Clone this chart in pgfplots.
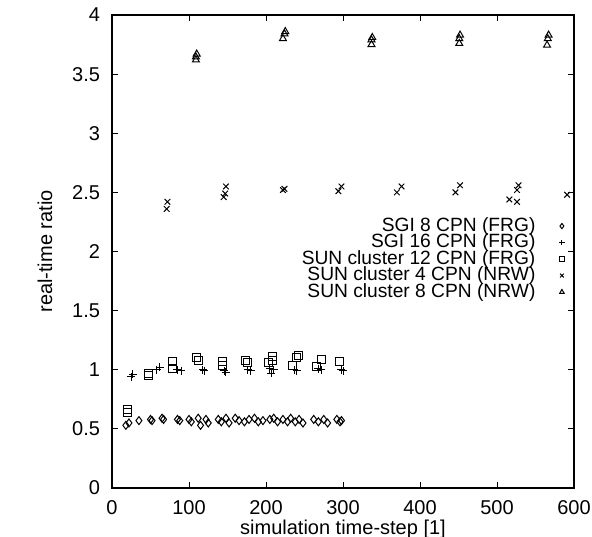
\documentclass[border=0pt]{standalone}
\usepackage{fontspec}
\setmainfont{Liberation Sans}
\usepackage{pgfplots}
\pgfplotsset{compat=1.18}
\begin{document}
\begin{tikzpicture}
\path[use as bounding box] (-56pt,-24pt) rectangle (240pt,244pt);
\begin{axis}[
  at={(0pt,0pt)}, anchor=south west,
  scale only axis, width=231pt, height=236.5pt,
  xmin=0, xmax=600, ymin=0, ymax=4,
  xtick={0,100,...,600}, ytick={0,0.5,...,4},
  tick align=inside, major tick length=3pt,
  axis line style={line width=0.8pt},
  tick style={line width=0.5pt, black},
  font=\fontsize{10}{11}\selectfont,
  /pgf/number format/assume math mode=true,
  yticklabel style={xshift=-2.5pt},
  xticklabel style={yshift=-2.8pt},
  xlabel={simulation time-step [1]},
  ylabel={real-time ratio},
  xlabel style={at={(axis description cs:0.5,-0.088)}, anchor=center},
  ylabel style={at={(axis description cs:-0.145,0.5)}, anchor=center},
  legend style={at={(axis cs:596,2.32)}, anchor=north east, draw=none, fill=none,
    font=\fontsize{9.6}{9.6}\selectfont, row sep=0.25pt, legend cell align=right,
    nodes={text height=6.5pt, text depth=1.5pt, inner ysep=0pt}},
  legend plot pos=right,
  legend image code/.code={\path (0pt,0pt); \draw[#1] plot coordinates {(11pt,0pt)};},
  every axis plot/.append style={only marks, black, mark size=2pt, line width=0.5pt},
]
\addplot[mark=diamond, legend image post style={mark size=1.3pt}] coordinates {
(18,0.53)(22,0.55)(35,0.57)(50,0.58)(52,0.57)(65,0.59)(67,0.58)(85,0.58)(88,0.57)
(100,0.58)(103,0.56)(112,0.59)(115,0.53)(122,0.58)(125,0.55)(138,0.58)(142,0.56)
(148,0.59)(152,0.55)(160,0.59)(165,0.57)(172,0.56)(178,0.58)(185,0.59)(190,0.56)
(196,0.57)(205,0.58)(210,0.59)(215,0.56)(222,0.58)(228,0.56)(232,0.59)(238,0.56)
(243,0.58)(248,0.55)(262,0.58)(268,0.56)(275,0.58)(280,0.55)(292,0.58)(296,0.56)(298,0.57)};
\addlegendentry{SGI 8 CPN (FRG)}
\addplot[mark=+, legend image post style={mark size=1.3pt}] coordinates {
(25,0.94)(27,0.96)(58,1.0)(62,1.02)(85,1.0)(90,0.99)(118,1.0)(120,0.99)(146,0.99)
(148,0.98)(176,1.0)(180,0.99)(205,1.01)(207,0.97)(210,1.0)(237,1.0)(240,0.99)
(268,1.01)(272,1.0)(298,1.0)(300,0.99)};
\addlegendentry{SGI 16 CPN (FRG)}
\addplot[mark=square, legend image post style={mark size=1.3pt}] coordinates {
(20,0.66)(20,0.64)(47,0.955)(48,0.97)(78,1.01)(79,1.07)(110,1.1)(112,1.08)
(143,1.07)(144,1.04)(174,1.08)(176,1.06)(203,1.06)(208,1.11)(209,1.08)
(234,1.04)(240,1.1)(242,1.12)(266,1.03)(272,1.09)(296,1.07)};
\addlegendentry{SUN cluster 12 CPN (FRG)}
\addplot[mark=x, legend image post style={mark size=1.3pt}] coordinates {
(71,2.36)(72,2.42)(145,2.46)(147,2.49)(148,2.55)(222,2.52)(224,2.53)
(294,2.51)(298,2.55)(370,2.5)(376,2.55)(446,2.5)(452,2.56)
(516,2.44)(526,2.42)(526,2.52)(528,2.56)(591,2.48)};
\addlegendentry{SUN cluster 4 CPN (NRW)}
\addplot[mark=triangle, legend image post style={mark size=1.3pt}] coordinates {
(109,3.62)(109,3.645)(110,3.67)(222,3.8)(224,3.84)(225,3.86)
(337,3.75)(337,3.79)(338,3.81)(451,3.76)(451,3.8)(452,3.83)
(565,3.745)(566,3.8)(567,3.83)};
\addlegendentry{SUN cluster 8 CPN (NRW)}
\end{axis}
\end{tikzpicture}
\end{document}
